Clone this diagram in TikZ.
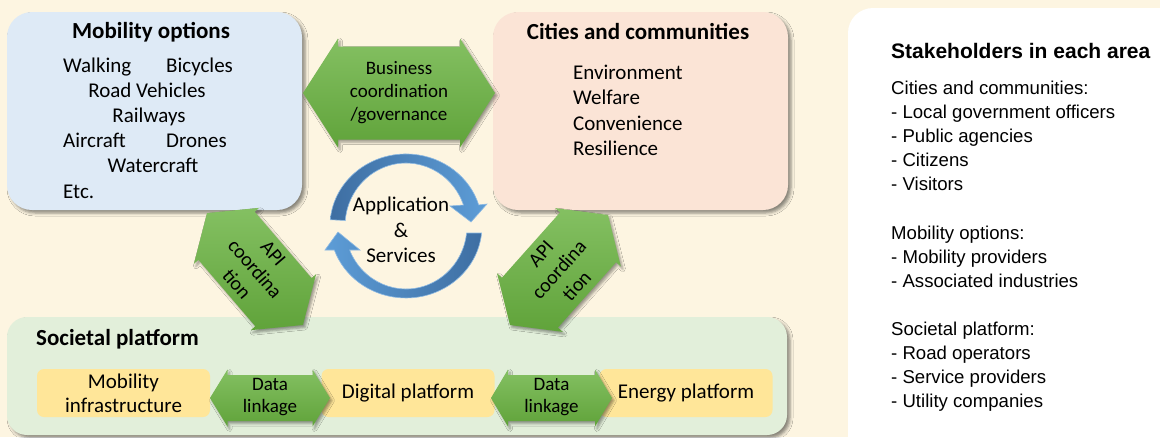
\documentclass[tikz,border=0pt]{standalone}
\usepackage{fontspec}
\setmainfont{Carlito}
\newfontfamily\arialf{Liberation Sans}
\usetikzlibrary{shadows.blur}
\definecolor{bg}{RGB}{253,245,225}
\definecolor{mobfill}{RGB}{222,234,246}
\definecolor{cityfill}{RGB}{251,228,214}
\definecolor{socfill}{RGB}{226,239,218}
\definecolor{yel}{RGB}{255,230,153}
\definecolor{glight}{RGB}{132,192,98}
\definecolor{gdark}{RGB}{96,163,58}
\definecolor{bdark}{RGB}{62,110,162}
\definecolor{blight}{RGB}{93,157,215}
\tikzset{
  bigbox/.style={fill=#1, draw=none, rounded corners=25pt, inner sep=0pt,
    blur shadow={shadow xshift=3pt, shadow yshift=-3pt, shadow blur radius=3pt, shadow opacity=45}},
  ybox/.style={fill=yel, draw=none, rounded corners=7pt, inner sep=0pt,
    minimum width=173pt, minimum height=48pt, align=center,
    font=\fontsize{21}{25}\selectfont},
  ttl/.style={font=\fontsize{23}{27}\selectfont\bfseries, inner sep=0pt},
  itm/.style={font=\fontsize{21}{25}\selectfont, inner sep=0pt},
  garrowstyle/.style={top color=glight, bottom color=gdark, draw=none,
    blur shadow={shadow xshift=2pt, shadow yshift=-2.5pt, shadow blur radius=2.5pt, shadow opacity=40}},
  barrow/.style={draw=blight!70!white, line width=0.6pt},
  gtxt/.style={align=center, inner sep=0pt},
  sttl/.style={font=\arialf\bfseries\fontsize{21}{25}\selectfont, inner sep=0pt, anchor=base west},
  stxt/.style={font=\arialf\fontsize{18.6}{24}\selectfont, inner sep=0pt, anchor=base west},
}
\newcommand{\garrow}[6]{%
  \begin{scope}[shift={#1}, rotate=#2]
    \path[garrowstyle] (-#3,0) -- (-#3+#4,-#5) -- (-#3+#4,-#6) -- (#3-#4,-#6) -- (#3-#4,-#5) -- (#3,0)
      -- (#3-#4,#5) -- (#3-#4,#6) -- (-#3+#4,#6) -- (-#3+#4,#5) -- cycle;
  \end{scope}}
\begin{document}
\begin{tikzpicture}[x=1pt,y=-1pt]
\useasboundingbox (0,0) rectangle (1160,437);
\fill[bg] (0,0) rectangle (1160,437);

% stakeholder panel
\node[fill=white, draw=none, rounded corners=25pt, minimum width=352pt, minimum height=462pt, inner sep=0pt] (stake) at (1024,239) {};

% main boxes
\node[bigbox=mobfill, minimum width=295pt, minimum height=198pt] (mob) at (154.5,111) {};
\node[bigbox=cityfill, minimum width=295pt, minimum height=198pt] (city) at (640.5,111) {};
\node[bigbox=socfill, rounded corners=20pt, minimum width=780pt, minimum height=118pt] (soc) at (397,376) {};

% yellow boxes
\node[ybox] (infra) at (123.5,393) {Mobility\\[-1pt]infrastructure};
\node[ybox] (digi) at (408,393) {Digital platform};
\node[ybox] (energy) at (686,393) {Energy platform};

% green double arrows
\garrow{(399,93)}{0}{96}{35}{54.5}{46.5}
\garrow{(255,269)}{-49.4}{73.7}{30}{43}{37}
\garrow{(559,270)}{48.3}{73.7}{30}{44}{37.5}
\garrow{(270,398)}{0}{60}{17.5}{28.5}{23}
\garrow{(551.5,398)}{0}{60.5}{17}{28.5}{23}

% blue cycle arrows
\path[barrow, left color=bdark, right color=blight]
  (345.2,220.5) -- (330.3,219.7) arc[start angle=185, end angle=343, x radius=76, y radius=72]
  -- (487,204) -- (471,222) -- (450,206) -- (463.5,205)
  arc[start angle=340.5, end angle=185, x radius=61, y radius=63] -- cycle;
\path[barrow, left color=blight, right color=bdark]
  (481.6,233) arc[start angle=5.6, end angle=160.5, x radius=76, y radius=72]
  -- (325,250) -- (338,232) -- (360,250) -- (349.6,250)
  arc[start angle=157.6, end angle=6.4, x radius=61, y radius=63] -- cycle;

% titles
\node[ttl, anchor=base] (mobt) at (151,38) {Mobility options};
\node[ttl, anchor=base] (cityt) at (638,39) {Cities and communities};
\node[ttl, anchor=base west] (soct) at (36,345) {Societal platform};

% mobility items
\node[itm, anchor=base west] (walk) at (63,72) {Walking};
\node[itm, anchor=base west] (bike) at (166,72) {Bicycles};
\node[itm, anchor=base] (road) at (147,97) {Road Vehicles};
\node[itm, anchor=base] (rail) at (149,122) {Railways};
\node[itm, anchor=base west] (air) at (63,147) {Aircraft};
\node[itm, anchor=base west] (drone) at (166,147) {Drones};
\node[itm, anchor=base] (water) at (153,172) {Watercraft};
\node[itm, anchor=base west] (etc) at (63,198) {Etc.};

% city items
\node[itm, anchor=base west] (env) at (573,79) {Environment};
\node[itm, anchor=base west] (wel) at (573,104) {Welfare};
\node[itm, anchor=base west] (conv) at (573,130) {Convenience};
\node[itm, anchor=base west] (res) at (573,155) {Resilience};

% arrow texts
\node[gtxt, font=\fontsize{19}{23}\selectfont] (biz) at (399,93) {Business\\coordination\\/governance};
\node[gtxt, font=\fontsize{20}{24}\selectfont, rotate=-49.4] (api1) at (255,269) {API\\coordina\\tion};
\node[gtxt, font=\fontsize{20}{24}\selectfont, rotate=48.3] (api2) at (559,270) {API\\coordina\\tion};
\node[gtxt, font=\fontsize{19}{21.5}\selectfont] (dl1) at (270,397) {Data\\linkage};
\node[gtxt, font=\fontsize{19}{21.5}\selectfont] (dl2) at (551.5,397) {Data\\linkage};
\node[gtxt, font=\fontsize{21}{25.5}\selectfont] (app) at (401,230) {Application\\\&\\Services};

% stakeholders text
\node[sttl] (stt) at (891,58) {Stakeholders in each area};
\foreach \yy/\tt in {94/Cities and communities:, 118/- Local government officers, 142/- Public agencies,
  166/- Citizens, 190/- Visitors, 239/Mobility options:, 263/- Mobility providers, 287/- Associated industries,
  335/Societal platform:, 359/- Road operators, 383/- Service providers, 407/- Utility companies}
  \node[stxt] (s\yy) at (891,\yy) {\tt};
\end{tikzpicture}
\end{document}
